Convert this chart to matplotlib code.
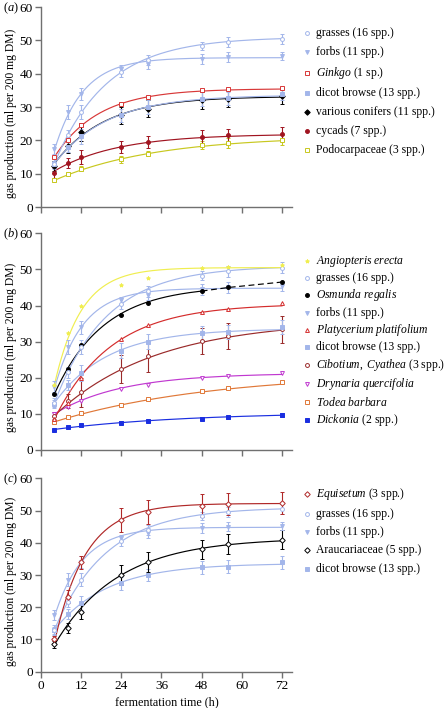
import numpy as np
import matplotlib.pyplot as plt
from matplotlib.lines import Line2D

plt.rcParams['font.family'] = ['Liberation Serif', 'DejaVu Serif']
plt.rcParams['mathtext.fontset'] = 'custom'
plt.rcParams['mathtext.rm'] = 'Liberation Serif'
plt.rcParams['mathtext.it'] = 'Liberation Serif:italic'

# incubation times (h)
hours = [4, 8, 12, 24, 32, 48, 56, 72]

# mean gas production (ml per 200 mg DM) and error bars
grasses = [13, 21.5, 28.5, 40.5, 44, 48.3, 49.5, 50.5]
grasses_err = [1.5, 1.5, 2, 1.5, 1.5, 1.2, 1.5, 1.5]
forbs = [17.5, 28.5, 34, 41.5, 43, 44.5, 45, 45.3]
forbs_err = [1.5, 2, 1.8, 1, 1.5, 1.5, 1.5, 1.2]
ginkgo = [15, 20, 24.5, 31, 33, 35, 35.3, 35.8]
dicot = [12.8, 18, 21.2, 27.5, 30, 32.4, 32.6, 34]
dicot_err = [1, 1.5, 2.2, 2, 2, 2, 2, 2]
conifers = [12.2, 18.3, 22.5, 27.5, 29.5, 32, 32.5, 33.3]
conifers_err = [1.5, 2.2, 2.8, 2.5, 2.5, 2.5, 2.5, 2.5]
cycads = [10.2, 13.2, 15, 18, 19.5, 21, 21.5, 22]
cycads_err = [1.5, 1.5, 2, 1.8, 1.8, 2, 2, 2]
podocarp = [8, 10, 11.5, 14.3, 16, 18.5, 19.3, 20]
podocarp_err = [0.5, 0.5, 0.7, 1, 0.8, 1.2, 1.5, 1.5]

angiopteris = [18, 32.5, 40, 45.8, 47.6, 50.5, 50.8, 51.2]
osmunda = [15.5, 22.5, 29, 37.5, 40.8, 44, 45, 46.5]
platycerium = [8.5, 13, 20, 30.7, 34.6, 38.1, 39, 40.6]
cibotium = [9.5, 13.6, 16, 22.4, 25.9, 30.3, 31.6, 33.4]
cibotium_err = [1, 2, 4, 3.8, 4.3, 3.6, 3.7, 3.7]
drynaria = [10, 12, 13.6, 17, 18, 19.8, 20.5, 21.3]
todea = [7.8, 9, 10.3, 12.5, 14, 16.3, 17.3, 18.7]
dickonia = [5.6, 6.4, 6.9, 7.6, 8, 8.6, 9, 9.7]
dickonia_err = [0.3, 0.3, 0.3, 0.3, 0.3, 0.4, 0.5, 0.6]

equisetum = [10, 23.3, 34, 47, 49.5, 51.5, 52, 52.3]
equisetum_err = [1, 2, 2, 3.8, 3.7, 3.5, 3.5, 3.5]
araucaria = [8.5, 13.5, 18.6, 30, 34, 38, 39.6, 41]
araucaria_err = [1, 1.5, 2.2, 3, 3, 3, 3, 3]

# fitted curve parameters: (value at 4 h, asymptote, rate)
fit_grasses = (13, 51, 0.064)
fit_forbs = (17, 44.8, 0.118)
fit_ginkgo = (15, 35.5, 0.076)
fit_dicot = (13, 33.6, 0.063)
fit_conifers = (13, 33.2, 0.066)
fit_cycads = (10.8, 21.9, 0.053)
fit_podocarp = (8, 21.3, 0.033)
fit_angiopteris = (18, 50.5, 0.125)
fit_osmunda = (15.5, 45.5, 0.068)
fit_platycerium = (8.5, 40.5, 0.059)
fit_cibotium = (9.5, 36, 0.033)
fit_drynaria = (10, 21.3, 0.05)
fit_todea = (7.8, 21.5, 0.021)
fit_dickonia = (5.7, 10.5, 0.025)
fit_equisetum = (9, 52.2, 0.108)
fit_araucaria = (8.3, 41.5, 0.053)

lblue = '#a3b6ea'
MS = 2.8
FS = 8.4


def curve(t, p):
    y0, a, k = p
    return a - (a - y0) * np.exp(-k * (t - 4))


def series(ax, y, err, fit, color, marker, filled, t_end=72):
    t = np.linspace(4, t_end, 200)
    ax.plot(t, curve(t, fit), color=color, lw=0.85, zorder=2)
    ax.errorbar(hours, y, yerr=err, fmt=marker, color=color, ms=MS,
                mfc=color if filled else 'white', mec=color, mew=0.7,
                elinewidth=0.8, capsize=1.6, capthick=0.8, zorder=3)


fig = plt.figure(figsize=(4.48, 7.08), dpi=100)
W, H = 448, 708
left, right = 41, 292
panels = [(7, 207), (233.3, 450), (478.3, 671.7)]
axes = []
for top, bot in panels:
    ax = fig.add_axes([left / W, 1 - bot / H, (right - left) / W, (bot - top) / H])
    ax.set_xlim(0, 75)
    ax.set_ylim(0, 60)
    ax.set_yticks(range(0, 61, 10))
    ax.set_xticks(range(0, 73, 12))
    for s in ['top', 'right']:
        ax.spines[s].set_visible(False)
    for s in ['left', 'bottom']:
        ax.spines[s].set_color('#707070')
        ax.spines[s].set_linewidth(1.0)
    ax.tick_params(direction='out', length=4, width=1, color='#707070',
                   labelsize=9.5, pad=2)
    axes.append(ax)

ax1, ax2, ax3 = axes
ax1.tick_params(labelbottom=False)
ax2.tick_params(labelbottom=False)

# panel (a)
a_series = [
    (grasses, grasses_err, fit_grasses, lblue, 'o', False, 'grasses (16 spp.)'),
    (forbs, forbs_err, fit_forbs, lblue, 'v', True, 'forbs (11 spp.)'),
    (ginkgo, None, fit_ginkgo, '#d83838', 's', False, r'$\it{Ginkgo}$ (1 sp.)'),
    (dicot, dicot_err, fit_dicot, lblue, 's', True, 'dicot browse (13 spp.)'),
    (conifers, conifers_err, fit_conifers, 'black', 'D', True, 'various conifers (11 spp.)'),
    (cycads, cycads_err, fit_cycads, '#a01420', 'o', True, 'cycads (7 spp.)'),
    (podocarp, podocarp_err, fit_podocarp, '#c8c820', 's', False, 'Podocarpaceae (3 spp.)'),
]
# panel (b)
b_series = [
    (angiopteris, None, fit_angiopteris, '#f0ee50', '*', True, r'$\it{Angiopteris\ erecta}$'),
    (grasses, grasses_err, fit_grasses, lblue, 'o', False, 'grasses (16 spp.)'),
    (osmunda, None, fit_osmunda, 'black', 'o', True, r'$\it{Osmunda\ regalis}$'),
    (forbs, forbs_err, fit_forbs, lblue, 'v', True, 'forbs (11 spp.)'),
    (platycerium, None, fit_platycerium, '#d42c2c', '^', False, r'$\it{Platycerium\ platifolium}$'),
    (dicot, dicot_err, fit_dicot, lblue, 's', True, 'dicot browse (13 spp.)'),
    (cibotium, cibotium_err, fit_cibotium, '#9a2a2a', 'o', False, r'$\it{Cibotium,\ Cyathea}$ (3 spp.)'),
    (drynaria, None, fit_drynaria, '#c038d0', 'v', False, r'$\it{Drynaria\ quercifolia}$'),
    (todea, None, fit_todea, '#e07838', 's', False, r'$\it{Todea\ barbara}$'),
    (dickonia, dickonia_err, fit_dickonia, '#1a2ee0', 's', True, r'$\it{Dickonia}$ (2 spp.)'),
]
# panel (c)
c_series = [
    (equisetum, equisetum_err, fit_equisetum, '#b02828', 'D', False, r'$\it{Equisetum}$ (3 spp.)'),
    (grasses, grasses_err, fit_grasses, lblue, 'o', False, 'grasses (16 spp.)'),
    (forbs, forbs_err, fit_forbs, lblue, 'v', True, 'forbs (11 spp.)'),
    (araucaria, araucaria_err, fit_araucaria, 'black', 'D', False, 'Araucariaceae (5 spp.)'),
    (dicot, dicot_err, fit_dicot, lblue, 's', True, 'dicot browse (13 spp.)'),
]

groups = [a_series, b_series, c_series]
legend_tops = [27, 253.5, 485.5]
legends = []
for ax, group, ltop, sp in zip(axes, groups, legend_tops, [0.58, 0.29, 0.54]):
    for y, err, fit, color, marker, filled, label in reversed(group):
        t_end = 48 if fit is fit_osmunda else 72
        series(ax, y, err, fit, color, marker, filled, t_end=t_end)
        if fit is fit_osmunda:
            ax.plot(hours[5:], y[5:], color='black', lw=0.85, ls=(0, (5, 3)), zorder=2)
    # legend holds the texts; its markers are drawn below
    blank = [Line2D([], [], alpha=0) for _ in group]
    leg = ax.legend(blank, [g[6] for g in group], loc='upper left',
                    bbox_to_anchor=(303 / W, 1 - ltop / H),
                    bbox_transform=fig.transFigure, frameon=False, borderpad=0,
                    borderaxespad=0, handlelength=0.7, handletextpad=0.45,
                    labelspacing=sp, fontsize=FS)
    legends.append(leg)

fig.canvas.draw()
renderer = fig.canvas.get_renderer()
for ax, group, leg in zip(axes, groups, legends):
    for txt, item in zip(leg.get_texts(), group):
        color, marker, filled = item[3], item[4], item[5]
        bb = txt.get_window_extent(renderer)
        yc = (bb.y0 + bb.y1) / 2 / fig.bbox.height
        ax.plot([307 / W], [yc], ls='none', marker=marker, color=color, ms=MS,
                mfc=color if filled else 'white', mec=color, mew=0.7,
                transform=fig.transFigure, clip_on=False)

for lab, (top, bot) in zip(['a', 'b', 'c'], panels):
    fig.text(3 / W, 1 - (top + 1) / H, '($\\it{%s}$)' % lab, fontsize=9, va='center')
    fig.text(11 / W, 1 - (top + bot + 12) / 2 / H, 'gas production (ml per 200 mg DM)',
             rotation=90, fontsize=FS, ha='center', va='center')

ax3.set_xlabel('fermentation time (h)', fontsize=FS + 0.3, labelpad=3)

fig.savefig('out.png', dpi=100)
